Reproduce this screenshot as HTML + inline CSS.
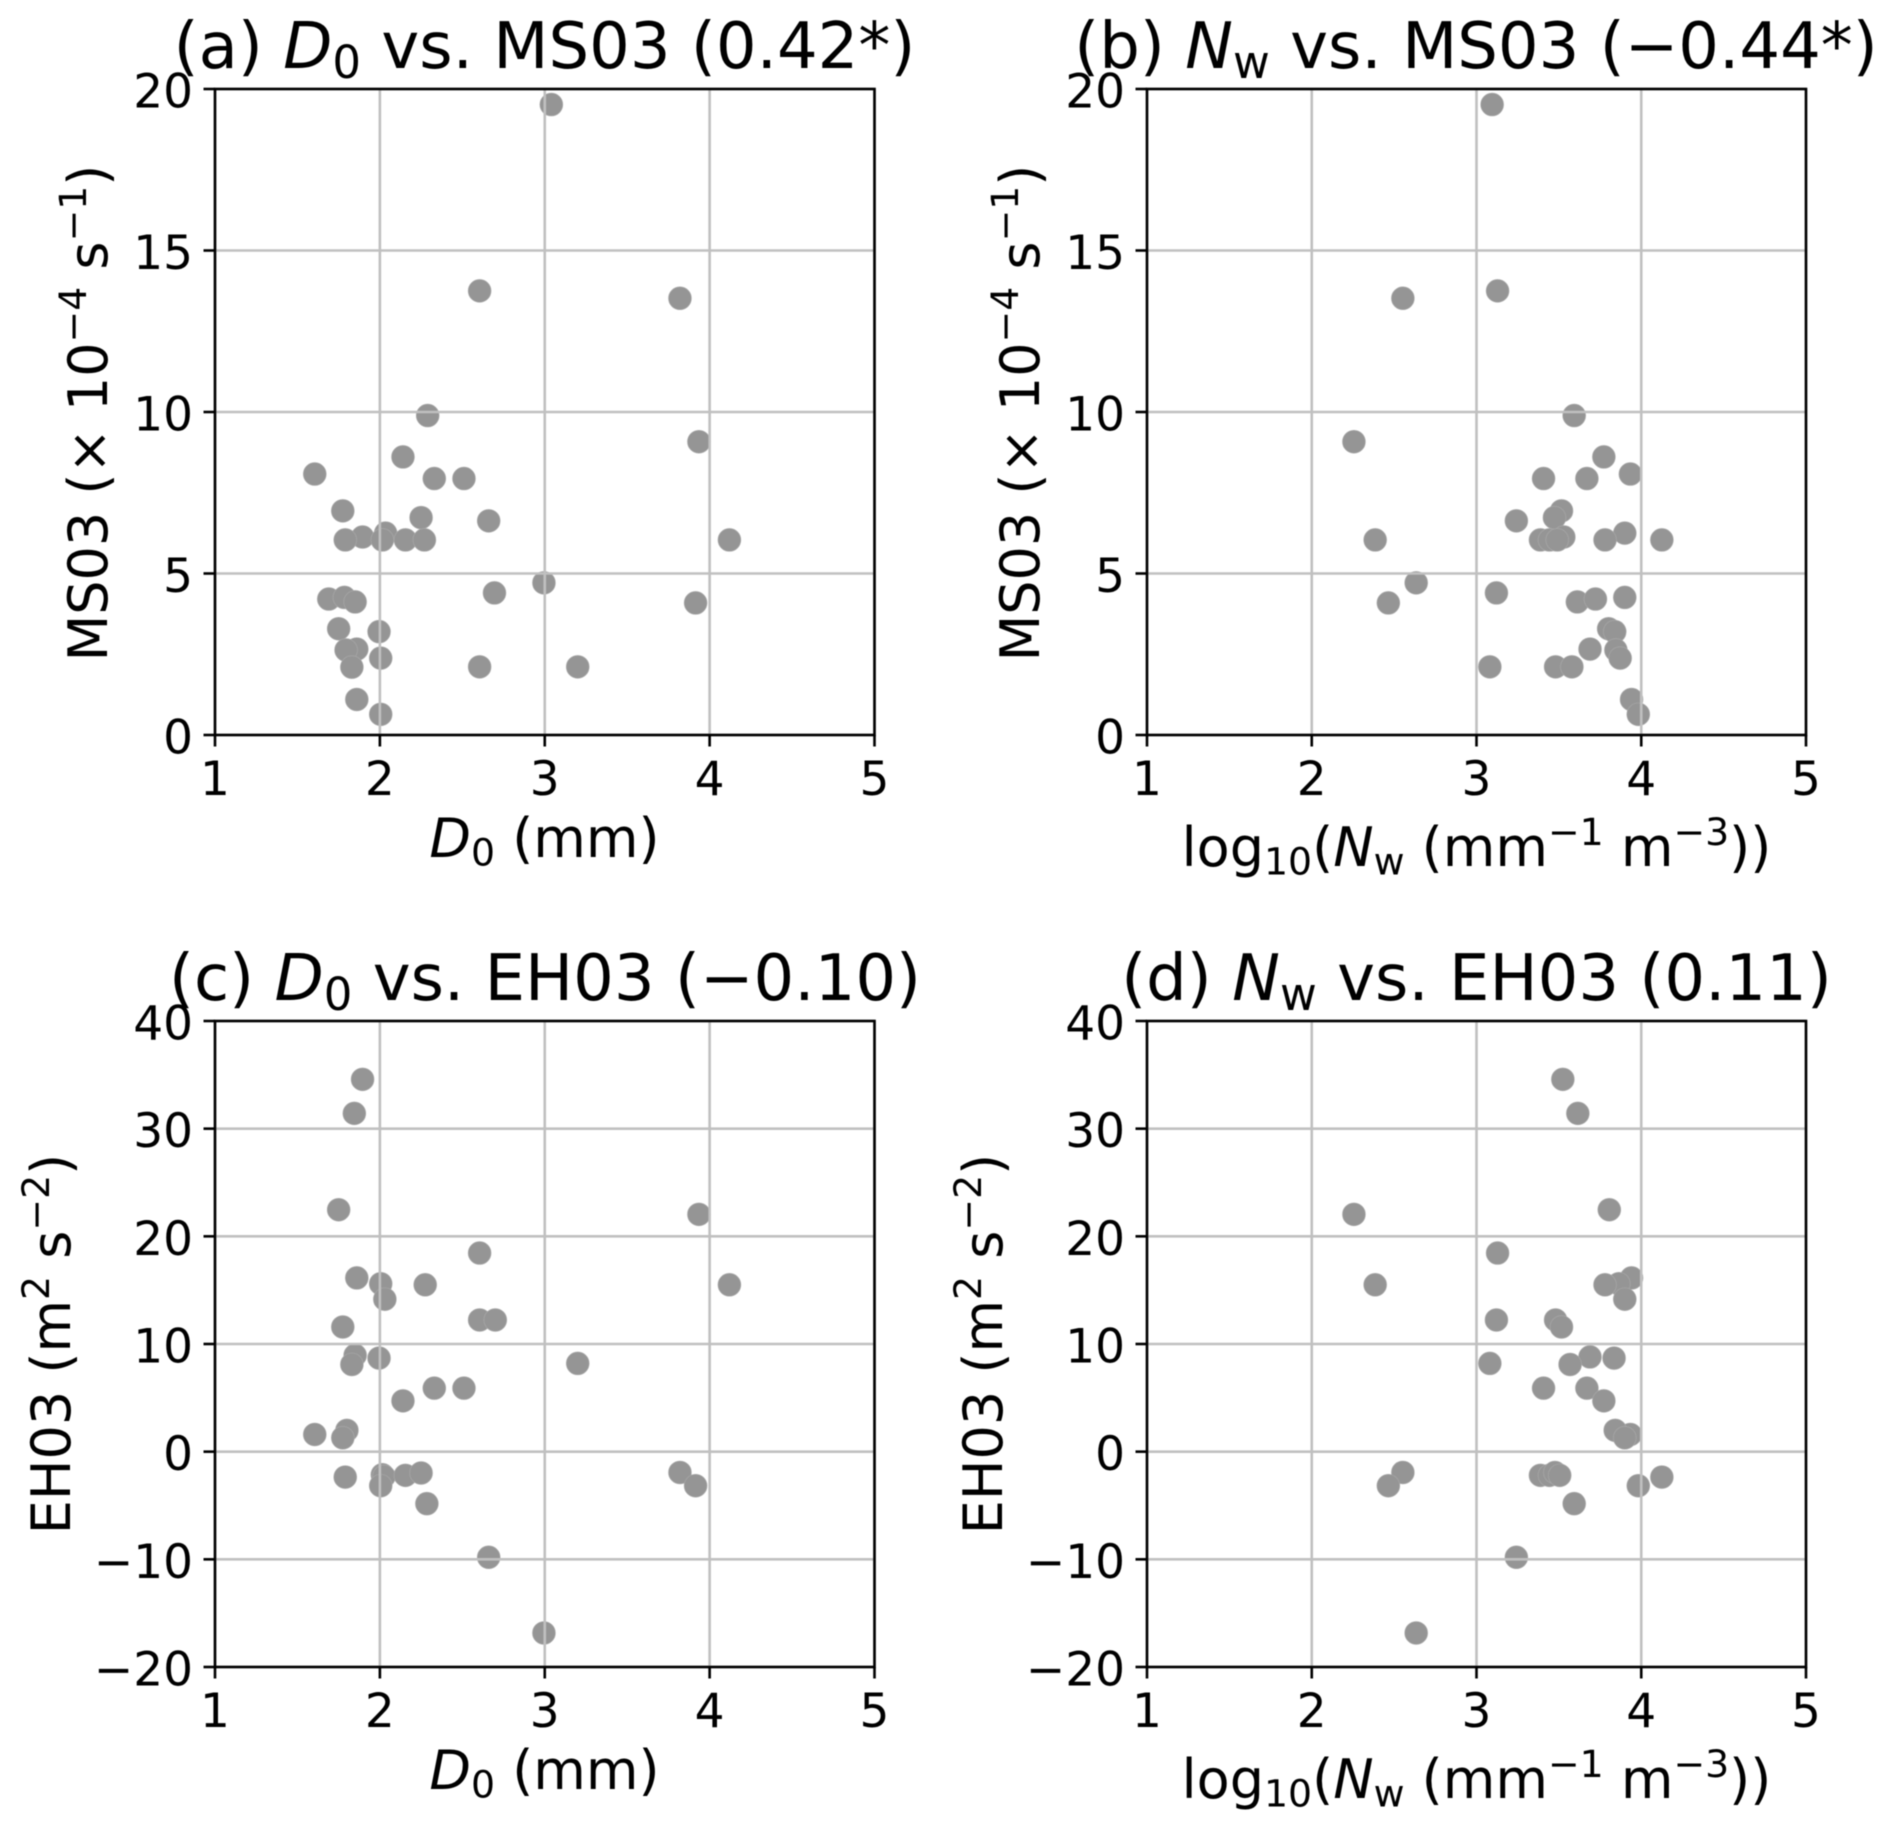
<!DOCTYPE html>
<html lang="en">
<head>
<meta charset="utf-8">
<title>D0 and Nw vs. MS03 and EH03</title>
<style>
html,body{margin:0;padding:0;background:#fff;}
svg{display:block;font-family:"DejaVu Sans",sans-serif;fill:#000;filter:blur(0.4px);}
.title{font-size:64px;}
.label{font-size:54px;}
.tick{font-size:47px;}
</style>
</head>
<body>
<svg id="figure" xmlns="http://www.w3.org/2000/svg" width="1892" height="1827" viewBox="0 0 1892 1827">
<rect x="0" y="0" width="1892" height="1827" fill="#fff"/>
<g id="plots"></g>

<text class="title" x="544.5" y="68" text-anchor="middle">(a) <tspan font-style="italic">D</tspan><tspan font-size="45" dy="10">0</tspan><tspan dy="-10"> vs. MS03 (0.42*)</tspan></text>
<text class="title" x="1476" y="68" text-anchor="middle">(b) <tspan font-style="italic">N</tspan><tspan font-size="45" dy="10">w</tspan><tspan dy="-10"> vs. MS03 (−0.44*)</tspan></text>
<text class="title" x="545" y="1000" text-anchor="middle">(c) <tspan font-style="italic">D</tspan><tspan font-size="45" dy="10">0</tspan><tspan dy="-10"> vs. EH03 (−0.10)</tspan></text>
<text class="title" x="1476.5" y="1000" text-anchor="middle">(d) <tspan font-style="italic">N</tspan><tspan font-size="45" dy="10">w</tspan><tspan dy="-10"> vs. EH03 (0.11)</tspan></text>

<text class="label" x="544.5" y="857" text-anchor="middle"><tspan font-style="italic">D</tspan><tspan font-size="37.8" dy="8.5">0</tspan><tspan dy="-8.5"> (mm)</tspan></text>
<text class="label" x="1476.5" y="866" text-anchor="middle">log<tspan font-size="37.8" dy="8.5">10</tspan><tspan dy="-8.5">(</tspan><tspan font-style="italic">N</tspan><tspan font-size="37.8" dy="8.5">w</tspan><tspan dy="-8.5"> (mm</tspan><tspan font-size="37.8" dy="-21">−1</tspan><tspan dy="21"> m</tspan><tspan font-size="37.8" dy="-21">−3</tspan><tspan dy="21">))</tspan></text>
<text class="label" x="544.5" y="1789" text-anchor="middle"><tspan font-style="italic">D</tspan><tspan font-size="37.8" dy="8.5">0</tspan><tspan dy="-8.5"> (mm)</tspan></text>
<text class="label" x="1476.5" y="1798" text-anchor="middle">log<tspan font-size="37.8" dy="8.5">10</tspan><tspan dy="-8.5">(</tspan><tspan font-style="italic">N</tspan><tspan font-size="37.8" dy="8.5">w</tspan><tspan dy="-8.5"> (mm</tspan><tspan font-size="37.8" dy="-21">−1</tspan><tspan dy="21"> m</tspan><tspan font-size="37.8" dy="-21">−3</tspan><tspan dy="21">))</tspan></text>

<text class="label" transform="translate(107 413) rotate(-90)" text-anchor="middle">MS03 (× 10<tspan font-size="37.8" dy="-21">−4</tspan><tspan dy="21"> s</tspan><tspan font-size="37.8" dy="-21">−1</tspan><tspan dy="21">)</tspan></text>
<text class="label" transform="translate(1039 413) rotate(-90)" text-anchor="middle">MS03 (× 10<tspan font-size="37.8" dy="-21">−4</tspan><tspan dy="21"> s</tspan><tspan font-size="37.8" dy="-21">−1</tspan><tspan dy="21">)</tspan></text>
<text class="label" transform="translate(70 1344) rotate(-90)" text-anchor="middle">EH03 (m<tspan font-size="37.8" dy="-21">2</tspan><tspan dy="21"> s</tspan><tspan font-size="37.8" dy="-21">−2</tspan><tspan dy="21">)</tspan></text>
<text class="label" transform="translate(1002 1344) rotate(-90)" text-anchor="middle">EH03 (m<tspan font-size="37.8" dy="-21">2</tspan><tspan dy="21"> s</tspan><tspan font-size="37.8" dy="-21">−2</tspan><tspan dy="21">)</tspan></text>
</svg>

<script>
const xTickValues = [1, 2, 3, 4, 5];
const msTickValues = [0, 5, 10, 15, 20];
const ehTickValues = [-20, -10, 0, 10, 20, 30, 40];

const panelAD0 = [3.04,2.605,3.82,2.29,3.935,2.14,1.605,2.33,2.51,1.775,2.25,2.66,2.035,1.895,1.79,2.015,2.155,2.27,4.12,2.995,2.695,1.69,1.785,1.85,3.915,1.75,1.995,1.86,1.795,2.005,1.83,2.605,3.2,1.86,2.005];
const panelAMS03 = [19.52,13.75,13.52,9.89,9.08,8.61,8.08,7.94,7.94,6.94,6.73,6.63,6.25,6.13,6.04,6.04,6.04,6.04,6.04,4.71,4.40,4.21,4.26,4.12,4.09,3.29,3.2,2.66,2.63,2.38,2.10,2.11,2.11,1.10,0.64];

const panelBNw = [3.095,3.128,2.553,3.593,2.256,3.773,3.934,3.407,3.67,3.516,3.473,3.242,3.90,3.53,3.388,3.443,3.49,3.78,2.385,4.125,2.634,3.121,3.612,3.722,3.90,2.465,3.802,3.839,3.689,3.846,3.872,3.081,3.48,3.579,3.941,3.982];
const panelBMS03 = [19.52,13.75,13.52,9.89,9.08,8.61,8.08,7.94,7.94,6.94,6.73,6.63,6.25,6.13,6.04,6.04,6.04,6.04,6.04,6.04,4.71,4.40,4.12,4.21,4.26,4.09,3.29,3.2,2.66,2.63,2.38,2.11,2.11,2.11,1.10,0.64];

const panelCD0 = [1.895,1.845,1.75,3.935,2.605,1.86,2.005,2.275,4.12,2.03,2.605,2.70,1.775,1.85,1.995,1.83,3.2,2.33,2.51,2.14,1.605,1.80,1.775,1.79,2.015,2.025,2.155,2.25,2.005,3.82,3.915,2.285,2.66,2.995];
const panelCEH03 = [34.58,31.42,22.47,22.04,18.45,16.14,15.6,15.5,15.5,14.16,12.23,12.23,11.58,8.95,8.69,8.1,8.2,5.9,5.9,4.72,1.6,1.98,1.29,-2.36,-2.14,-2.3,-2.2,-1.98,-3.16,-1.93,-3.16,-4.83,-9.81,-16.84];

const panelDNw = [3.524,3.615,3.806,2.256,3.128,3.941,3.864,3.78,2.385,3.90,3.121,3.48,3.516,3.689,3.835,3.568,3.081,3.407,3.67,3.773,3.934,3.842,3.90,4.125,3.388,3.443,3.476,3.505,2.553,2.465,3.982,3.593,3.242,2.634];
const panelDEH03 = [34.58,31.42,22.47,22.04,18.45,16.14,15.6,15.5,15.5,14.16,12.23,12.23,11.58,8.8,8.69,8.1,8.2,5.9,5.9,4.72,1.6,1.98,1.29,-2.36,-2.2,-2.2,-1.93,-2.2,-1.93,-3.16,-3.16,-4.83,-9.81,-16.84];

const SVG_NS = 'http://www.w3.org/2000/svg';
const plots = document.getElementById('plots');

function make(tag, parent, attrs) {
  const el = document.createElementNS(SVG_NS, tag);
  for (const k in attrs) el.setAttribute(k, attrs[k]);
  parent.appendChild(el);
  return el;
}
function fmt(v) { return v < 0 ? '\u2212' + Math.abs(v) : String(v); }

function drawPanel(id, box, yMin, yMax, yTicks, xs, ys) {
  const xMin = 1, xMax = 5;
  const sx = v => box.left + (v - xMin) / (xMax - xMin) * (box.right - box.left);
  const sy = v => box.bottom - (v - yMin) / (yMax - yMin) * (box.bottom - box.top);

  const g = make('g', plots, {});
  
  

  xs.forEach((v, i) => {
    const dot = make('circle', g, {cx: sx(v), cy: sy(ys[i]), r: 11.4, fill: '#959595', stroke: '#a8a8a8', 'stroke-width': 0.7});
    
    
  });

  xTickValues.forEach(v => {
    const grid = make('line', g, {x1: sx(v), x2: sx(v), y1: box.top, y2: box.bottom, stroke: '#c0c0c0', 'stroke-width': 2.6});
    
    
  });
  yTicks.forEach(v => {
    const grid = make('line', g, {x1: box.left, x2: box.right, y1: sy(v), y2: sy(v), stroke: '#c0c0c0', 'stroke-width': 2.6});
    
    
  });

  const frame = make('rect', g, {x: box.left, y: box.top, width: box.right - box.left, height: box.bottom - box.top, fill: 'none', stroke: '#000', 'stroke-width': 2.6});
  
  

  xTickValues.forEach(v => {
    const tick = make('line', g, {x1: sx(v), x2: sx(v), y1: box.bottom, y2: box.bottom + 11.5, stroke: '#000', 'stroke-width': 2.6});
    
    
    const label = make('text', g, {x: sx(v), y: box.bottom + 60, 'text-anchor': 'middle', class: 'tick'});
    
    
    label.textContent = fmt(v);
  });
  yTicks.forEach(v => {
    const tick = make('line', g, {x1: box.left - 11.5, x2: box.left, y1: sy(v), y2: sy(v), stroke: '#000', 'stroke-width': 2.6});
    
    
    const label = make('text', g, {x: box.left - 22, y: sy(v) + 18.5, 'text-anchor': 'end', class: 'tick'});
    
    
    label.textContent = fmt(v);
  });
}

drawPanel('a', {left: 215, right: 874.5, top: 89, bottom: 735}, 0, 20, msTickValues, panelAD0, panelAMS03);
drawPanel('b', {left: 1147, right: 1806, top: 89, bottom: 735}, 0, 20, msTickValues, panelBNw, panelBMS03);
drawPanel('c', {left: 215, right: 874.5, top: 1021, bottom: 1667}, -20, 40, ehTickValues, panelCD0, panelCEH03);
drawPanel('d', {left: 1147, right: 1806, top: 1021, bottom: 1667}, -20, 40, ehTickValues, panelDNw, panelDEH03);
</script>
</body>
</html>
